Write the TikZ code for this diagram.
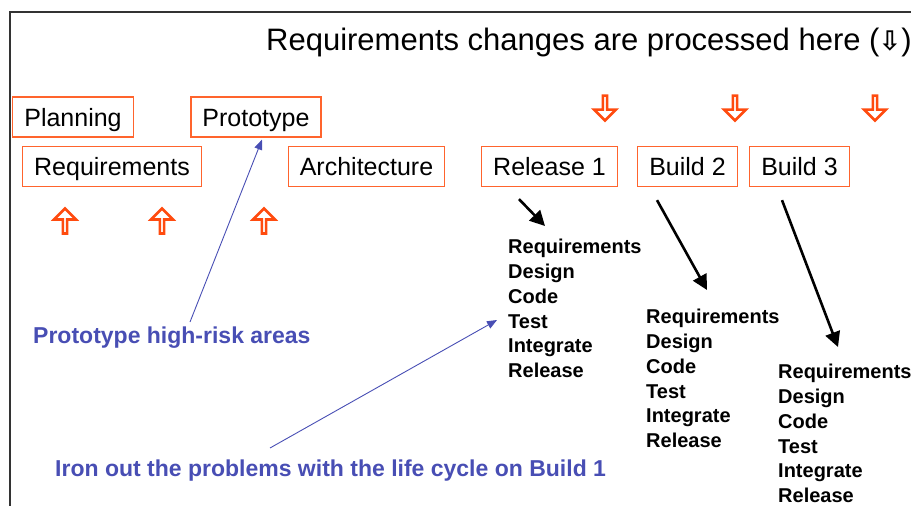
\documentclass[tikz,border=0pt]{standalone}
\usepackage{fontspec}
\setmainfont{Liberation Sans}
\newfontfamily\symfont{DejaVu Sans}
\usetikzlibrary{shapes.arrows,arrows.meta}

\definecolor{boxline}{RGB}{255,100,45}
\definecolor{hollow}{RGB}{255,75,15}
\definecolor{note}{RGB}{72,78,180}

\begin{document}
\begin{tikzpicture}[x=1pt, y=-1pt,
  phase/.style={draw=boxline, line width=1.3pt, inner xsep=11.5pt, inner ysep=0pt,
    minimum height=40pt, text height=18pt, text depth=0pt,
    font=\fontsize{25}{30}\selectfont},
  hollowarrow/.style={single arrow, draw=hollow, line width=2.6pt, inner sep=0pt,
    minimum height=25pt, minimum width=22pt, single arrow head extend=5.5pt},
  steps/.style={align=left, inner sep=0pt, anchor=north west,
    font=\bfseries\fontsize{20}{24.8}\selectfont},
  notetext/.style={text=note, inner sep=0pt, anchor=base west,
    font=\bfseries\fontsize{23}{28}\selectfont},
  buildarrow/.style={line width=2.6pt, -{Triangle[length=15pt,width=15pt]}},
  notearrow/.style={draw=note, line width=0.9pt, -{Triangle[length=10pt,width=8pt]}}]

\useasboundingbox (0,0) rectangle (911,506);

% Frame
\draw[line width=1.4pt, black!80] (10,506) -- (10,12) -- (911,12);

% Title
\node[inner sep=0pt, anchor=base west, font=\fontsize{31}{37}\selectfont]
  (title) at (266,50) {Requirements changes are processed here
  (\kern-1pt{\symfont\bfseries\fontsize{27}{32}\selectfont ⇩})};

% Phases
\node[phase] (plan)   at (73,117)    {Planning};
\node[phase] (req)    at (112,166.5) {Requirements};
\node[phase] (proto)  at (256,117)   {Prototype};
\node[phase] (arch)   at (366.5,166.5) {Architecture};
\node[phase] (rel1)   at (549.5,166.5) {Release 1};
\node[phase] (build2) at (687.5,166.5) {Build 2};
\node[phase] (build3) at (799.5,166.5) {Build 3};

% Hollow arrows
\node[hollowarrow, shape border rotate=90]  (up1)   at (65,222)  {};
\node[hollowarrow, shape border rotate=90]  (up2)   at (162,222) {};
\node[hollowarrow, shape border rotate=90]  (up3)   at (264,222) {};
\node[hollowarrow, shape border rotate=270] (down1) at (605,107) {};
\node[hollowarrow, shape border rotate=270] (down2) at (735,107) {};
\node[hollowarrow, shape border rotate=270] (down3) at (875,107) {};

% Life cycle lists
\node[steps] (list1) at (508,239)
  {Requirements\\Design\\Code\\Test\\Integrate\\Release};
\node[steps] (list2) at (646,309)
  {Requirements\\Design\\Code\\Test\\Integrate\\Release};
\node[steps] (list3) at (778,364)
  {Requirements\\Design\\Code\\Test\\Integrate\\Release};

\draw[buildarrow] ([shift={(-30.5,12)}]rel1.south)   -- ([shift={(37,-13)}]list1.north west);
\draw[buildarrow] ([shift={(-30.5,13)}]build2.south) -- ([shift={(61,-19)}]list2.north west);
\draw[buildarrow] ([shift={(-17.5,13)}]build3.south) -- ([shift={(60,-17)}]list3.north west);

% Notes
\node[notetext] (risk) at (33,343) {Prototype high-risk areas};
\node[notetext] (iron) at (55,476) {Iron out the problems with the life cycle on Build 1};

\coordinate (risktail) at (190,322);
\coordinate (irontail) at (270,448);
\draw[notearrow] (risktail) -- ([shift={(6,2)}]proto.south);
\draw[notearrow] (irontail) -- ([shift={(-11,81)}]list1.north west);

\end{tikzpicture}
\end{document}
